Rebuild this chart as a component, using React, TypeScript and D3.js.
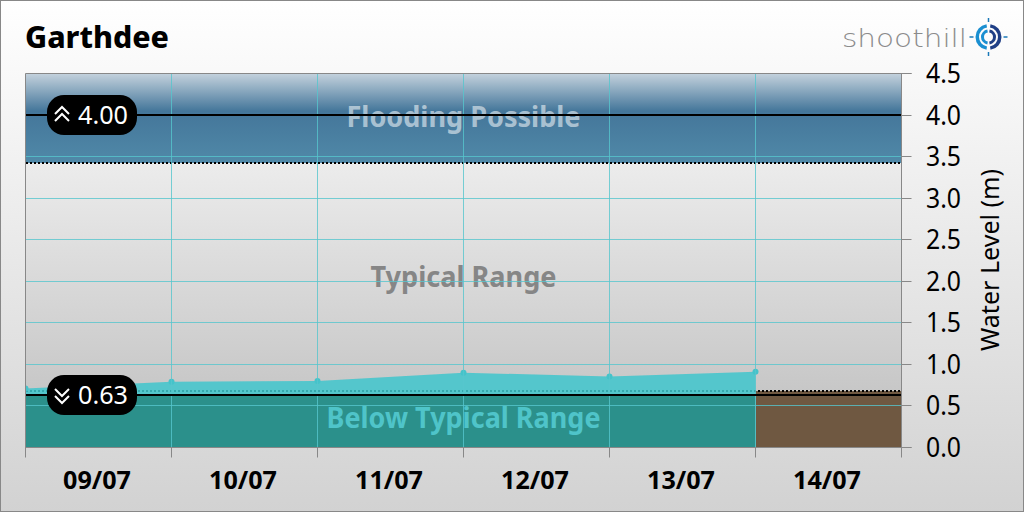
import React from "react";
import * as d3 from "d3";

const title = "Garthdee";
const dayLabels = ["09/07", "10/07", "11/07", "12/07", "13/07", "14/07"];
const dayIndex = [0, 1, 2, 3, 4, 5, 6];
const levelDays = [0, 1, 2, 3, 4, 5];
const levels = [0.71, 0.79, 0.8, 0.9, 0.855, 0.91];
const yTicks = [0, 0.5, 1, 1.5, 2, 2.5, 3, 3.5, 4, 4.5];
const floodThreshold = 3.423;
const lowThreshold = 0.68;
const highMark = 4.0;
const lowMark = 0.63;
const yMax = 4.5;

const W = 1024, H = 512;
const x = d3.scaleLinear().domain([0, 6]).range([25.5, 901.5]);
const y = d3.scaleLinear().domain([0, yMax]).range([447.5, 73.5]);
const FONT = "'Noto Sans', sans-serif";
const row = (v: number) => Math.floor(y(v)) + 0.5;
const GRID = "#56c6cd";

export default function App() {
  const area = d3.area<number>().x((_, i) => x(levelDays[i])).y0(y(0)).y1((d) => y(d));
  const left = x(0), right = x(6);
  const badge = (val: number, label: string, up: boolean) => {
    const cy = Math.round(y(val));
    const cx = 62;
    const dir = up ? 1 : -1;
    const chev = (off: number) => `M${cx - 7},${cy + dir * 3 + off} L${cx},${cy - dir * 4 + off} L${cx + 7},${cy + dir * 3 + off}`;
    return (
      <g>
        <rect x={47} y={cy - 20} width={90} height={40} rx={17} fill="#000" />
        <path d={chev(-4 * dir)} fill="none" stroke="#fff" strokeWidth={2} />
        <path d={chev(3 * dir)} fill="none" stroke="#fff" strokeWidth={2} />
        <text x={78} y={cy + 9} fontSize={25} fill="#fff" fontFamily={FONT} textLength={50} lengthAdjust="spacingAndGlyphs">{label}</text>
      </g>
    );
  };
  const lc = 988.5, lcy = 37;
  const arc = d3.arc();
  const ring = (r0: number, r1: number, a0: number, a1: number) =>
    arc({ innerRadius: r0, outerRadius: r1, startAngle: a0, endAngle: a1 }) ?? "";
  const fy = Math.round(y(floodThreshold));
  const ly = Math.round(y(lowThreshold));
  const zero = row(0);
  return (
    <svg width={W} height={H} viewBox={`0 0 ${W} ${H}`} style={{ position: "absolute", left: 0, top: 0, display: "block" }}>
      <defs>
        <linearGradient id="page" x1="0" y1="0" x2="0" y2="1">
          <stop offset="0" stopColor="#ffffff" />
          <stop offset="1" stopColor="#d2d2d2" />
        </linearGradient>
        <linearGradient id="plot" x1="0" y1="0" x2="0" y2="1">
          <stop offset="0" stopColor="#ececec" />
          <stop offset="1" stopColor="#bebebe" />
        </linearGradient>
        <linearGradient id="flood" x1="0" y1="0" x2="0" y2="1">
          <stop offset="0" stopColor="#c4d2dd" />
          <stop offset="0.42" stopColor="#44769a" />
          <stop offset="1" stopColor="#5089a8" />
        </linearGradient>
        <clipPath id="plotClip">
          <rect x={left} y={y(yMax)} width={right - left} height={y(0) - y(yMax)} />
        </clipPath>
      </defs>
      <rect x={0.5} y={0.5} width={W - 1} height={H - 1} fill="url(#page)" stroke="#888" />
      <text x={25} y={48} fontSize={31} fontWeight={800} fontFamily={FONT} fill="#000" textLength={144} lengthAdjust="spacingAndGlyphs">{title}</text>

      <text x={842} y={47} fontSize={25} fontWeight={200} fontFamily="'DejaVu Sans', sans-serif" fill="#8b8b8b" textLength={125} lengthAdjust="spacingAndGlyphs">shoothill</text>
      <g transform={`translate(${lc},${lcy})`}>
        <path d={ring(9.5, 13, Math.PI * 1.05, Math.PI * 1.95)} fill="#1a8fd1" />
        <path d={ring(9.5, 13, Math.PI * 0.05, Math.PI * 0.95)} fill="#1f3f86" />
        <path d={ring(4.5, 7.5, Math.PI * 1.05, Math.PI * 1.95)} fill="#1a8fd1" />
        <path d={ring(4.5, 7.5, Math.PI * 0.05, Math.PI * 0.95)} fill="#1f3f86" />
        {[[0, -1], [0, 1], [-1, 0], [1, 0]].map(([a, b], i) => (
          <line key={i} x1={a * 15} y1={b * 15} x2={a * 19} y2={b * 19} stroke="#1a78b8" strokeWidth={1.5} />
        ))}
      </g>

      <rect x={left} y={fy} width={right - left} height={y(0) - fy} fill="url(#plot)" />
      <rect x={left} y={y(yMax)} width={right - left} height={fy - y(yMax)} fill="url(#flood)" />
      <rect x={x(5)} y={ly} width={x(6) - x(5)} height={y(0) - ly} fill="#6f5841" />

      <line x1={left} x2={right} y1={fy} y2={fy} stroke="#000" strokeWidth={2} strokeDasharray="2 2" shapeRendering="crispEdges" />
      <line x1={left} x2={right} y1={ly} y2={ly} stroke="#000" strokeWidth={2} strokeDasharray="2 2" shapeRendering="crispEdges" />

      <g clipPath="url(#plotClip)">
        <path d={area(levels) ?? ""} fill="#3fc6cd" opacity={0.85} />
        <rect x={left} y={y(lowMark)} width={x(5) - left} height={y(0) - y(lowMark)} fill="#2b908b" />
        {levels.map((d, i) => (
          <circle key={i} cx={x(levelDays[i])} cy={y(d)} r={3} fill="#45c3ca" />
        ))}
      </g>

      <text x={463.5} y={127} textAnchor="middle" fontSize={29} fontWeight={700} fontFamily={FONT} fill="#ffffff" fillOpacity={0.55} textLength={234} lengthAdjust="spacingAndGlyphs">Flooding Possible</text>
      <text x={463.5} y={287} textAnchor="middle" fontSize={29} fontWeight={700} fontFamily={FONT} fill="#868686" textLength={186} lengthAdjust="spacingAndGlyphs">Typical Range</text>
      <text x={463.5} y={428} textAnchor="middle" fontSize={29} fontWeight={700} fontFamily={FONT} fill="#4fc4c9" textLength={274} lengthAdjust="spacingAndGlyphs">Below Typical Range</text>

      {yTicks.slice(0, 9).map((t) => (
        <line key={t} x1={left} x2={right} y1={row(t)} y2={row(t)} stroke={GRID} strokeOpacity={0.8} />
      ))}
      {dayIndex.slice(1, 6).map((d) => (
        <line key={d} x1={x(d)} x2={x(d)} y1={y(yMax)} y2={zero} stroke={GRID} strokeOpacity={0.8} />
      ))}

      <line x1={left} x2={right} y1={Math.round(y(highMark))} y2={Math.round(y(highMark))} stroke="#000" strokeWidth={2} />
      <line x1={left} x2={right} y1={Math.round(y(lowMark))} y2={Math.round(y(lowMark))} stroke="#000" strokeWidth={2} />

      {badge(highMark, "4.00", true)}
      {badge(lowMark, "0.63", false)}

      <line x1={left} x2={left} y1={y(yMax)} y2={zero + 10} stroke="#888" />
      <line x1={right} x2={right} y1={y(yMax)} y2={zero + 10} stroke="#888" />
      <line x1={left} x2={right + 10} y1={row(yMax)} y2={row(yMax)} stroke="#888" />
      <line x1={left} x2={right + 10} y1={zero} y2={zero} stroke="#888" />
      {dayIndex.slice(1, 6).map((d) => (
        <line key={d} x1={x(d)} x2={x(d)} y1={zero} y2={zero + 10} stroke="#888" />
      ))}
      {yTicks.map((t) => (
        <g key={t}>
          <line x1={right} x2={right + 10} y1={row(t)} y2={row(t)} stroke="#888" />
          <text x={926} y={y(t) + 9.5} fontSize={27} fontFamily={FONT} fill="#000" textLength={35} lengthAdjust="spacingAndGlyphs">{t.toFixed(1)}</text>
        </g>
      ))}
      {dayLabels.map((l, i) => (
        <text key={l} x={x(i + 0.5) - 1.5} y={489} textAnchor="middle" fontSize={25} fontWeight={700} fontFamily={FONT} fill="#000" textLength={68} lengthAdjust="spacingAndGlyphs">{l}</text>
      ))}
      <text transform="translate(999,260) rotate(-90)" textAnchor="middle" fontSize={25} fontFamily={FONT} fill="#000" textLength={182} lengthAdjust="spacingAndGlyphs">Water Level (m)</text>
    </svg>
  );
}
